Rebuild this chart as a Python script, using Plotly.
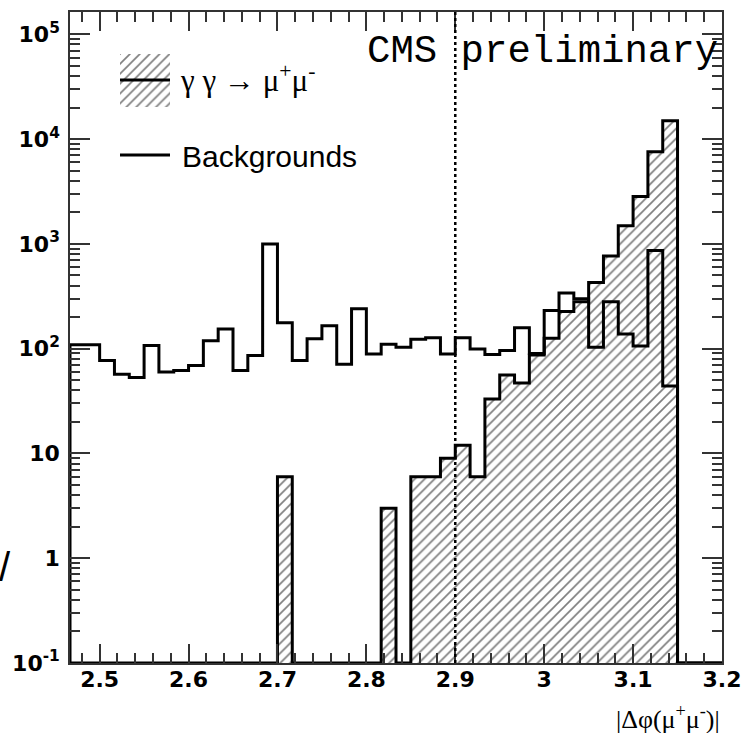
import numpy as np
import plotly.graph_objects as go

# ---------------- data ----------------
hist_lo = 2.466667
hist_hi = 3.2
n_bins = 44

background = [109, 109, 77, 57, 53, 107, 60, 62, 69, 119, 154, 62, 86, 995,
              177, 77, 124, 165, 71, 240, 89, 110, 103, 123, 127, 89, 127, 99,
              88, 96, 158, 90, 231, 339, 300, 103, 280, 138, 106, 863, 44,
              0, 0, 0]
signal = [0, 0, 0, 0, 0, 0, 0, 0, 0, 0, 0, 0, 0, 0,
          6, 0, 0, 0, 0, 0, 0, 3, 0, 6, 6, 9, 12, 6,
          33, 56, 47, 87, 126, 226, 280, 428, 768, 1486, 2827, 7590, 15000,
          0, 0, 0]

cut_value = 2.9
x_tick_vals = [2.5, 2.6, 2.7, 2.8, 2.9, 3.0, 3.1, 3.2]
x_tick_text = ["2.5", "2.6", "2.7", "2.8", "2.9", "3", "3.1", "3.2"]
y_tick_vals = [0.1, 1, 10, 100, 1000, 10000, 100000]
y_tick_text = ["10<sup>-1</sup>", "1", "10", "10<sup>2</sup>", "10<sup>3</sup>",
               "10<sup>4</sup>", "10<sup>5</sup>"]
legend_labels = ["\u03b3 \u03b3 \u2192 \u03bc<sup>+</sup>\u03bc<sup>-</sup>", "Backgrounds"]
x_title = "|\u0394\u03c6(\u03bc<sup>+</sup>\u03bc<sup>-</sup>)|"
header = "CMS preliminary"

# ---------------- derived ----------------
y_min_log, y_max_log = -1, 5.213
y_floor = 10 ** y_min_log
edges = np.linspace(hist_lo, hist_hi, n_bins + 1)
centers = 0.5 * (edges[:-1] + edges[1:])
width = edges[1] - edges[0]

def step_path(vals):
    v = np.where(np.array(vals) > 0, vals, y_floor)
    xs = np.repeat(edges, 2)[1:-1]
    ys = np.repeat(v, 2)
    xs = np.concatenate([[edges[0]], xs, [edges[-1]]])
    ys = np.concatenate([[y_floor], ys, [y_floor]])
    return xs, ys

AX = "#333333"
HATCH = dict(shape="/", fgcolor="black", bgcolor="white", size=7, solidity=0.24)
fig = go.Figure()

fig.add_trace(go.Bar(
    x=centers, y=[v if v > 0 else None for v in signal], width=width,
    marker=dict(color="white", line=dict(width=0), pattern=HATCH),
    showlegend=False, hoverinfo="skip"))

sx, sy = step_path(signal)
fig.add_trace(go.Scatter(x=sx, y=sy, mode="lines",
                         line=dict(color="black", width=3),
                         showlegend=False, hoverinfo="skip"))
bx, by = step_path(background)
fig.add_trace(go.Scatter(x=bx, y=by, mode="lines",
                         line=dict(color="black", width=3),
                         showlegend=False, hoverinfo="skip"))

# legend hatched swatch in its own small axes
fig.add_trace(go.Bar(x=[0.5], y=[1], width=1, xaxis="x2", yaxis="y2",
                     marker=dict(color="white", line=dict(width=0), pattern=HATCH),
                     showlegend=False, hoverinfo="skip"))

W, H = 741, 733
L, R, T, B = 70, 19, 12, 70
pw, ph = W - L - R, H - T - B

def px(x):
    return (x - L) / pw

def py(y):
    return (H - B - y) / ph

tick_font = dict(family="DejaVu Sans", size=22, color="black", weight="bold")

minor_y = [m * 10 ** k for k in range(-1, 6) for m in range(2, 10)]

fig.update_layout(
    width=W, height=H, margin=dict(l=L, r=R, t=T, b=B, autoexpand=False),
    paper_bgcolor="white", plot_bgcolor="white",
    bargap=0, barmode="overlay",
    xaxis=dict(range=[hist_lo, hist_hi + 1e-6], showgrid=False, zeroline=False,
               automargin=False, ticklabeloverflow="allow",
               showline=True, linecolor=AX, linewidth=1.5, mirror="ticks",
               ticks="inside", ticklen=19, tickwidth=1.5, tickcolor=AX,
               tickmode="array", tickvals=x_tick_vals, ticktext=x_tick_text,
               tickfont=tick_font, ticklabelstandoff=-4,
               minor=dict(ticks="inside", ticklen=10, tickwidth=1.5, tickcolor=AX,
                          tick0=2.5, dtick=0.02, showgrid=False)),
    yaxis=dict(type="log", range=[y_min_log, y_max_log], showgrid=False, zeroline=False,
               automargin=False, ticklabeloverflow="allow",
               showline=True, linecolor=AX, linewidth=1.5, mirror="ticks",
               ticks="inside", ticklen=20, tickwidth=1.5, tickcolor=AX,
               tickmode="array", tickvals=y_tick_vals, ticktext=y_tick_text,
               tickfont=tick_font, ticklabelstandoff=4,
               minor=dict(ticks="inside", ticklen=10, tickwidth=1.5, tickcolor=AX,
                          tickmode="array", tickvals=minor_y, showgrid=False)),
    xaxis2=dict(domain=[px(120), px(170)], range=[0, 1], visible=False, anchor="y2"),
    yaxis2=dict(domain=[py(107), py(54)], range=[0, 1], visible=False, anchor="x2"),
)

fig.add_shape(type="line", xref="x", yref="paper", x0=cut_value, x1=cut_value, y0=0, y1=1,
              line=dict(color="black", width=2.5, dash="dot"))
# legend lines
fig.add_shape(type="line", xref="paper", yref="paper", x0=px(120), x1=px(170),
              y0=py(80), y1=py(80), line=dict(color="black", width=3))
fig.add_shape(type="line", xref="paper", yref="paper", x0=px(120), x1=px(170),
              y0=py(155), y1=py(155), line=dict(color="black", width=3))

fig.add_annotation(xref="paper", yref="paper", x=px(178), y=py(78), xanchor="left",
                   yanchor="middle", text=legend_labels[0], showarrow=False,
                   font=dict(family="Liberation Serif", size=31, color="black"))
fig.add_annotation(xref="paper", yref="paper", x=px(180), y=py(156), xanchor="left",
                   yanchor="middle", text=legend_labels[1], showarrow=False,
                   font=dict(family="Liberation Sans", size=30, color="black"))
fig.add_annotation(xref="paper", yref="paper", x=px(720), y=py(52), xanchor="right",
                   yanchor="middle", text=header, showarrow=False,
                   font=dict(family="Liberation Mono", size=39, color="black"))
fig.add_annotation(xref="paper", yref="paper", x=px(722), y=py(717), xanchor="right",
                   yanchor="middle", text=x_title, showarrow=False,
                   font=dict(family="Liberation Serif", size=26, color="black"))
fig.add_annotation(xref="paper", yref="paper", x=px(5), y=py(567), xanchor="center",
                   yanchor="middle", text="/", showarrow=False,
                   font=dict(family="Liberation Sans", size=40, color="black"))

fig.write_html("out.html", config={"displayModeBar": False},
               post_script="document.body.style.margin='0';document.body.style.overflow='hidden';")
